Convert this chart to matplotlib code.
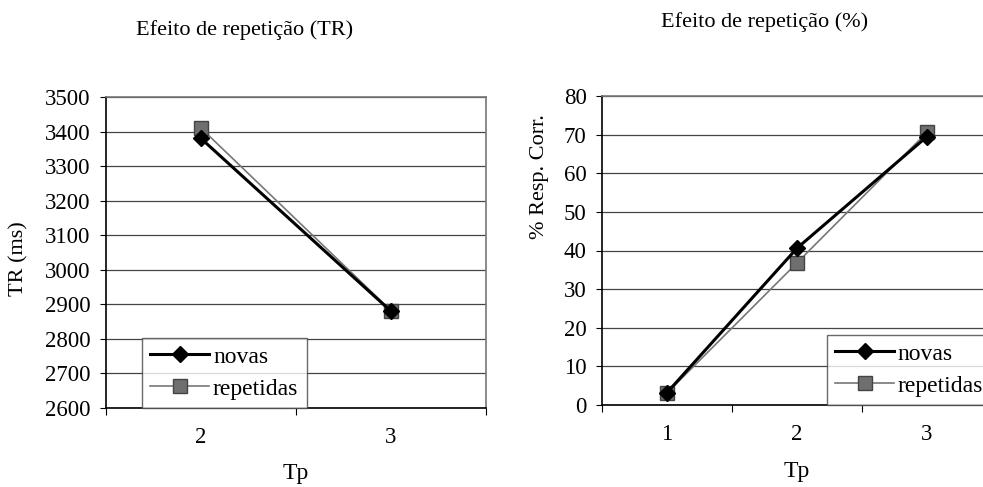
import matplotlib
matplotlib.use("Agg")
import matplotlib.pyplot as plt

plt.rcParams['font.family'] = ['Liberation Serif', 'DejaVu Serif']

# Dados
tp_tr = ['2', '3']
tr_novas = [3380, 2880]
tr_repetidas = [3410, 2882]

tp_pct = ['1', '2', '3']
pct_novas = [3.2, 40.6, 69.5]
pct_repetidas = [3.1, 36.8, 70.6]

W, H = 983, 487
fig = plt.figure(figsize=(W / 100, H / 100), dpi=100)


def px_axes(x0, y0, x1, y1):
    return fig.add_axes([x0 / W, 1 - y1 / H, (x1 - x0) / W, (y1 - y0) / H])


def estilo(ax, ncat):
    ax.set_xlim(0, ncat)
    ax.set_xticks(range(ncat + 1))
    ax.set_xticklabels([])
    ax.set_xticks([i + 0.5 for i in range(ncat)], minor=True)
    ax.tick_params(axis='x', which='major', direction='out', length=5, color='black')
    ax.tick_params(axis='x', which='minor', length=0, labelsize=16.5, pad=14)
    ax.tick_params(axis='y', direction='out', length=4, labelsize=16.5, pad=7)
    ax.yaxis.grid(True, color='#444444', linewidth=0.9)
    ax.set_axisbelow(True)
    for s in ['top', 'right']:
        ax.spines[s].set_color('#777777')
        ax.spines[s].set_linewidth(1.2)
    for s in ['left', 'bottom']:
        ax.spines[s].set_color('black')
        ax.spines[s].set_linewidth(1.2)


def series(ax, x, novas, repetidas):
    ax.plot(x, novas, color='black', lw=2.2, marker='D', ms=8,
            mfc='black', mec='black', label='novas', zorder=4)
    ax.plot(x, repetidas, color='#777777', lw=1.2, marker='s', ms=10,
            mfc='#6f6f6f', mec='#444444', label='repetidas', zorder=3)


def legenda(ax, x0):
    leg = ax.legend(loc='lower left', bbox_to_anchor=(x0, 0.0), fontsize=17,
                    frameon=True, fancybox=False, edgecolor='#444444',
                    handlelength=2.5, borderpad=0.35, labelspacing=0.45,
                    handletextpad=0.15, borderaxespad=0)
    leg.get_frame().set_linewidth(1.0)


# Gráfico da esquerda (TR)
ax1 = px_axes(106, 97, 486, 408)
x1 = [i + 0.5 for i in range(len(tp_tr))]
series(ax1, x1, tr_novas, tr_repetidas)
estilo(ax1, len(tp_tr))
ax1.set_xticklabels(tp_tr, minor=True)
ax1.set_ylim(2600, 3500)
ax1.set_yticks(range(2600, 3501, 100))
ax1.set_ylabel('TR (ms)', fontsize=16)
ax1.yaxis.set_label_coords(-0.205, 0.48)
ax1.set_xlabel('Tp', fontsize=17)
ax1.xaxis.set_label_coords(0.5, -0.178)
legenda(ax1, 0.095)

# Gráfico da direita (%)
ax2 = px_axes(602, 96, 992, 405)
x2 = [i + 0.5 for i in range(len(tp_pct))]
series(ax2, x2, pct_novas, pct_repetidas)
estilo(ax2, len(tp_pct))
ax2.set_xticklabels(tp_pct, minor=True)
ax2.set_ylim(0, 80)
ax2.set_yticks(range(0, 81, 10))
ax2.set_ylabel('% Resp. Corr.', fontsize=16)
ax2.yaxis.set_label_coords(-0.135, 0.74)
ax2.set_xlabel('Tp', fontsize=17)
ax2.xaxis.set_label_coords(0.5, -0.18)
legenda(ax2, 0.577)

fig.text(245 / W, 1 - 30 / H, 'Efeito de repetição (TR)', ha='center',
         va='center', fontsize=16)
fig.text(765 / W, 1 - 22 / H, 'Efeito de repetição (%)', ha='center',
         va='center', fontsize=16)

fig.savefig('out.png', dpi=100)
